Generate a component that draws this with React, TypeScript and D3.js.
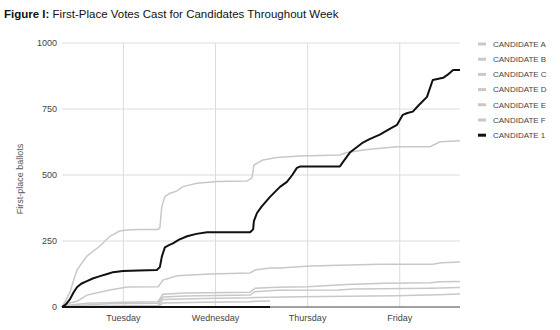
import React from "react";
import * as d3 from "d3";

// time values are hours since Monday 00:00
const titleBold = "Figure I:";
const titleRest = " First-Place Votes Cast for Candidates Throughout Week";
const yTicks = [0, 250, 500, 750, 1000];
const dayTicks = [24, 48, 72, 96];
const dayLabels = ["Tuesday", "Wednesday", "Thursday", "Friday"];
const legendNames = ["CANDIDATE A", "CANDIDATE B", "CANDIDATE C", "CANDIDATE D", "CANDIDATE E", "CANDIDATE F", "CANDIDATE 1"];

const candA: [number, number][] = [[8,0],[9,25],[10.1,57],[11,100],[12,143],[14.5,193],[17.9,231],[20.5,268],[23,288],[25,292],[28.3,294],[33,294],[33.5,300],[34,380],[34.8,418],[36,430],[38,440],[39.5,456],[43.2,469],[48.4,475],[56.2,477],[57.5,489],[58,538],[60.4,557],[64,566],[70,572],[80.4,576],[82.2,585],[87.5,597],[95.3,607],[103.9,607],[106.5,626],[111.7,630]];
const candB: [number, number][] = [[8,0],[10,15],[11.9,22],[14.5,45],[20.5,64],[25,76],[33,77],[33.5,85],[34.3,102],[38,118],[46.6,125],[57,129],[58.3,140],[62.2,148],[64.8,148],[72.6,155],[90.8,162],[104.6,162],[107,168],[111.7,170]];
const candC: [number, number][] = [[8,0],[10,8],[14.5,14],[23.9,18],[33,20],[34.3,48],[40,53],[57,56],[58.3,71],[64,75],[72,77],[82,85],[92,90],[104,92],[106.5,96],[111.7,97]];
const candD: [number, number][] = [[8,0],[12,6],[20,12],[33,14],[34.3,38],[40,42],[57,45],[58.3,58],[64,63],[80,64],[84,68],[104,71],[111.7,74]];
const candE: [number, number][] = [[8,0],[14,3],[33,6],[34.3,28],[45,32],[57,35],[58.3,36],[70,39],[95,43],[106,46],[111.7,49]];
const candF: [number, number][] = [[8,0],[33,2],[34.3,15],[45,18],[57,20],[58.3,22],[62.2,23]];
const cand1: [number, number][] = [[8,0],[9,10],[10.1,30],[11,55],[11.9,75],[13,88],[14.5,98],[16,108],[17.9,117],[20,126],[21.3,132],[23.9,136],[28,138],[32.7,140],[33.5,151],[34,190],[34.8,226],[36,235],[36.9,241],[38.5,255],[40.6,268],[43,277],[45.8,283],[50,283],[57,283],[57.5,290],[57.8,294],[58,325],[58.8,356],[60,380],[62.2,417],[64.8,455],[66.6,474],[68,500],[69.2,527],[70,532],[75,532],[80.4,532],[81,545],[83,585],[86.4,623],[88,635],[90.8,653],[93.4,675],[95.3,690],[96.8,728],[98,735],[99.4,740],[101,765],[103.1,796],[104.6,860],[107.3,868],[108.5,880],[109.9,898],[111.7,898]];
const baseline: [number, number][] = [[8,0],[62.2,0]];

const grays = [candA, candB, candC, candD, candE, candF];

export default function App() {
  const W = 560, H = 330;
  const left = 62, right = 460, top = 43, bottom = 307;
  const x = d3.scaleLinear().domain([8, 111.7]).range([left, right]);
  const y = d3.scaleLinear().domain([0, 1000]).range([bottom, top]);
  const line = d3.line<[number, number]>().x(d => x(d[0])).y(d => y(d[1]));
  const font = "Liberation Sans, Arial, sans-serif";
  const gray = "#c8c8c8";
  return (
    <svg width={W} height={H} style={{ position: "absolute", left: 0, top: 0, background: "#fff" }} fontFamily={font}>
      <text x={4} y={18} fontSize={11.5} fill="#111">
        <tspan fontWeight="bold">{titleBold}</tspan>
        <tspan>{titleRest}</tspan>
      </text>
      {yTicks.map(t => (
        <g key={t}>
          <line x1={left} x2={right} y1={y(t)} y2={y(t)} stroke="#dcdcdc" strokeWidth={1} />
          <text x={57} y={y(t)} dy="0.35em" textAnchor="end" fontSize={9} fill="#444">{t}</text>
        </g>
      ))}
      {dayTicks.map((t, i) => (
        <g key={t}>
          <line x1={x(t)} x2={x(t)} y1={top} y2={bottom} stroke="#dcdcdc" strokeWidth={1} />
          <text x={x(t)} y={321} textAnchor="middle" fontSize={9} fill="#444">{dayLabels[i]}</text>
        </g>
      ))}
      <line x1={left} x2={right} y1={bottom} y2={bottom} stroke="#555" strokeWidth={1} />
      <text transform={`translate(23,${(top + bottom) / 2 + 4}) rotate(-90)`} textAnchor="middle" fontSize={9} fill="#555">First-place ballots</text>
      {grays.map((g, i) => (
        <path key={i} d={line(g) || ""} fill="none" stroke={gray} strokeWidth={1.5} />
      ))}
      <path d={line(baseline) || ""} fill="none" stroke="#111" strokeWidth={2} />
      <path d={line(cand1) || ""} fill="none" stroke="#111" strokeWidth={2} strokeLinejoin="round" />
      {legendNames.map((n, i) => (
        <g key={n} transform={`translate(478,${44 + i * 15.2})`}>
          <line x1={0} x2={8} y1={0} y2={0} stroke={i === 6 ? "#111" : gray} strokeWidth={3} />
          <text x={15} y={0} dy="0.35em" fontSize={8} fill="#444">{n}</text>
        </g>
      ))}
    </svg>
  );
}
